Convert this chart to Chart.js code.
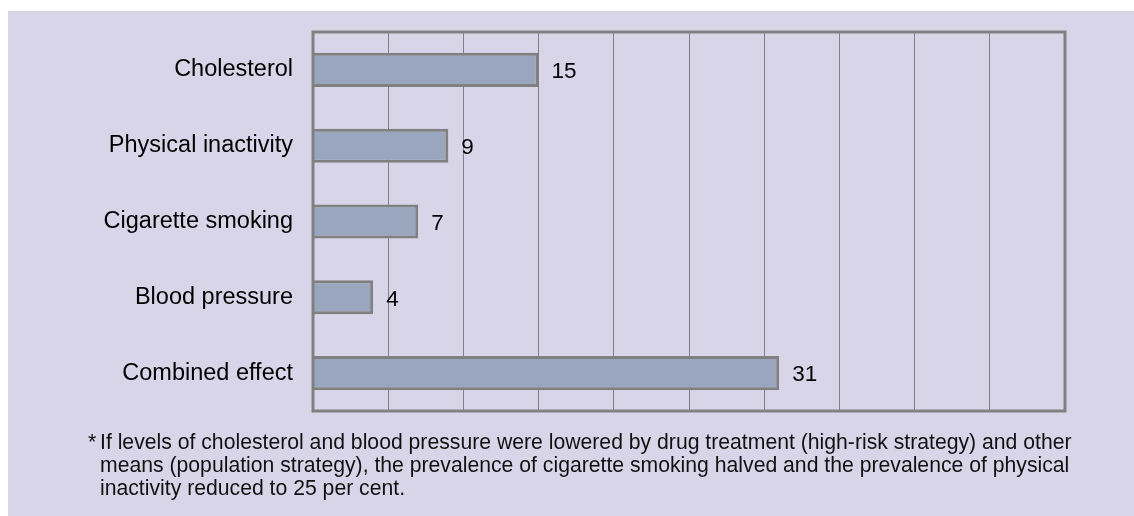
<!DOCTYPE html>
<html>
<head>
<meta charset="utf-8">
<script src="https://cdn.jsdelivr.net/npm/chart.js@4"></script>
<style>
    html, body { margin: 0; padding: 0; background: #ffffff; }
    #panel {
        position: absolute; left: 8px; top: 11px; width: 1126px; height: 505px;
        background: #d9d5e9;
    }
    #wrap { position: absolute; left: 0; top: 0; width: 1126px; height: 420px; }
    #note {
        position: absolute; left: 92px; top: 419px; width: 1030px;
        font-family: "Liberation Sans", Arial, sans-serif; font-size: 21.2px;
        line-height: 23px; color: #111; white-space: nowrap;
    }
    #note .star { position: absolute; left: -12px; top: 0; }
</style>
</head>
<body>
<div id="panel">
    <div id="wrap"><canvas id="risk-chart"></canvas></div>
    <div id="note"><span class="star">*</span>If levels of cholesterol and blood pressure were lowered by drug treatment (high-risk strategy) and other<br>means (population strategy), the prevalence of cigarette smoking halved and the prevalence of physical<br>inactivity reduced to 25 per cent.</div>
</div>
<script>
(function () {
    var categories = ["Cholesterol", "Physical inactivity", "Cigarette smoking", "Blood pressure", "Combined effect"];
    var values = [15, 9, 7, 4, 31];

    var ctx = document.getElementById("risk-chart").getContext("2d");

    var frame = {
        id: "frame",
        afterDatasetsDraw: function (chart) {
            var a = chart.chartArea;
            var c = chart.ctx;
            c.save();
            c.strokeStyle = "#808080";
            c.lineWidth = 3;
            c.strokeRect(a.left, a.top, a.right - a.left, a.bottom - a.top);

            // value labels at bar ends
            var meta = chart.getDatasetMeta(0);
            c.fillStyle = "#000";
            c.font = "22.5px 'Liberation Sans', Arial, sans-serif";
            c.textBaseline = "middle";
            meta.data.forEach(function (bar, i) {
                c.fillText(String(values[i]), bar.x + 13, bar.y + 2);
            });
            c.restore();
        }
    };

    new Chart(ctx, {
        type: "bar",
        data: {
            labels: categories,
            datasets: [{
                data: values,
                backgroundColor: "#9aa6bd",
                borderColor: "#808080",
                borderWidth: 3,
                barPercentage: 0.45,
                categoryPercentage: 1.0,
            }],
        },
        options: {
            indexAxis: "y",
            responsive: true,
            maintainAspectRatio: false,
            animation: false,
            layout: { padding: { top: 21, right: 69, bottom: 20, left: 0 } },
            scales: {
                x: {
                    min: 0,
                    max: 50,
                    ticks: { display: false, stepSize: 5 },
                    grid: { color: "#808080", lineWidth: 1, drawTicks: false },
                    border: { display: false },
                    afterFit: function (s) { s.height = 0; },
                },
                y: {
                    grid: { display: false },
                    border: { display: false },
                    ticks: {
                        color: "#000",
                        padding: 12,
                        font: { family: "'Liberation Sans', Arial, sans-serif", size: 23.5 },
                    },
                    afterFit: function (s) {
                        s.width = 305;
                        s.paddingTop = 0;
                        s.paddingBottom = 0;
                    },
                },
            },
            plugins: {
                legend: { display: false },
                tooltip: { enabled: false },
            },
        },
        plugins: [frame],
    });
})();
</script>
</body>
</html>
